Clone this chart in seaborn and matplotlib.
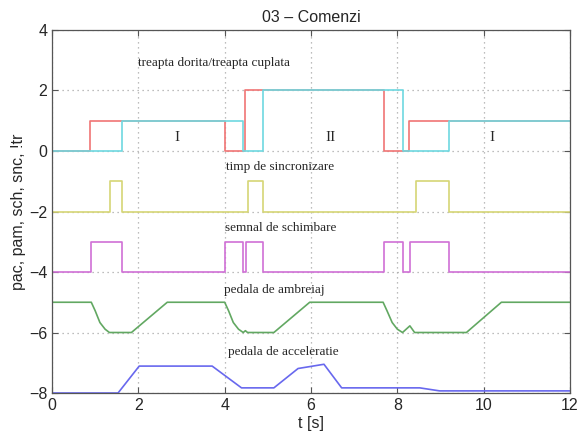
import numpy as np
import pandas as pd
import matplotlib
matplotlib.use("Agg")
import matplotlib.pyplot as plt
import seaborn as sns

# treapta dorita / treapta cuplata (step signals)
t_dorita = [0, 0.89, 4.0, 4.47, 7.69, 8.27, 12]
v_dorita = [0, 1, 0, 2, 0, 1, 1]
t_cuplata = [0, 1.63, 4.43, 4.88, 8.12, 9.2, 12]
v_cuplata = [0, 1, 0, 2, 0, 1, 1]

# timp de sincronizare
t_sinc = [0, 1.34, 1.63, 4.55, 4.88, 8.43, 9.2, 12]
v_sinc = [-2, -1, -2, -1, -2, -1, -2, -2]

# semnal de schimbare
t_sch = [0, 0.91, 1.63, 4.0, 4.43, 4.49, 4.89, 7.69, 8.12, 8.29, 9.2, 12]
v_sch = [-4, -3, -4, -3, -4, -3, -4, -3, -4, -3, -4, -4]

# pedala de ambreiaj
t_amb = [0, 0.91, 1.0, 1.11, 1.23, 1.33, 1.84, 2.67,
         4.0, 4.09, 4.2, 4.32, 4.43, 4.48, 4.53, 5.14, 5.97,
         7.67, 7.76, 7.88, 8.0, 8.12, 8.29, 8.4, 9.6, 10.41, 12]
v_amb = [-5, -5, -5.28, -5.67, -5.89, -6, -6, -5,
         -5, -5.28, -5.67, -5.89, -6, -5.94, -6, -6, -5,
         -5, -5.28, -5.67, -5.89, -6, -5.78, -6, -6, -5, -5]

# pedala de acceleratie
t_acc = [0, 1.53, 2.02, 3.71, 4.39, 5.14, 5.70, 6.30, 6.71, 8.52, 8.98, 12]
v_acc = [-8, -8, -7.11, -7.11, -7.83, -7.83, -7.19, -7.05, -7.83, -7.83, -7.93, -7.93]

sns.set_style("ticks")
plt.rcParams["font.family"] = ["Liberation Sans", "DejaVu Sans"]
plt.rcParams["xtick.direction"] = "in"
plt.rcParams["ytick.direction"] = "in"

fig = plt.figure(figsize=(5.79, 4.36), dpi=100)
ax = fig.add_axes([0.0898, 0.0986, 0.8947, 0.8326])

lw = 1.2
sns.lineplot(x=t_dorita, y=v_dorita, drawstyle="steps-post", color="#f07474", lw=lw, ax=ax, estimator=None)
sns.lineplot(x=t_cuplata, y=v_cuplata, drawstyle="steps-post", color="#6ed8e0", lw=lw, ax=ax, estimator=None)
sns.lineplot(x=t_sinc, y=v_sinc, drawstyle="steps-post", color="#d6d676", lw=lw, ax=ax, estimator=None)
sns.lineplot(x=t_sch, y=v_sch, drawstyle="steps-post", color="#d070d6", lw=lw, ax=ax, estimator=None)
sns.lineplot(x=t_amb, y=v_amb, color="#62a862", lw=lw, ax=ax, estimator=None)
sns.lineplot(x=t_acc, y=v_acc, color="#6868ee", lw=lw, ax=ax, estimator=None)

ax.set_xlim(0, 12)
ax.set_ylim(-8, 4)
ax.set_xticks(range(0, 13, 2))
ax.set_yticks(range(-8, 5, 2))
ax.grid(True, ls=(0, (1, 3)), color="#a8a8a8", lw=0.9)
ax.tick_params(top=True, right=True, labelsize=11.5, length=4, color="#555555")
for s in ax.spines.values():
    s.set_color("#555555")
    s.set_linewidth(0.9)

ax.set_title("03 – Comenzi", fontsize=11.5)
ax.set_xlabel("t [s]", fontsize=11.5, labelpad=2)
ax.set_ylabel("pac, pam, sch, snc, !tr", fontsize=11.5, labelpad=2)

serif = ["Liberation Serif", "DejaVu Serif"]
ax.text(2.0, 2.9, "treapta dorita/treapta cuplata", family=serif, fontsize=9.5, va="center")
ax.text(4.03, -0.52, "timp de sincronizare", family=serif, fontsize=9.5, va="center")
ax.text(4.0, -2.56, "semnal de schimbare", family=serif, fontsize=9.5, va="center")
ax.text(3.98, -4.6, "pedala de ambreiaj", family=serif, fontsize=9.5, va="center")
ax.text(4.07, -6.63, "pedala de acceleratie", family=serif, fontsize=9.5, va="center")
ax.text(2.9, 0.43, "I", family=serif, fontsize=11, ha="center", va="center")
ax.text(6.45, 0.43, "II", family=serif, fontsize=11, ha="center", va="center")
ax.text(10.2, 0.43, "I", family=serif, fontsize=11, ha="center", va="center")

fig.savefig("out.png", dpi=100)
